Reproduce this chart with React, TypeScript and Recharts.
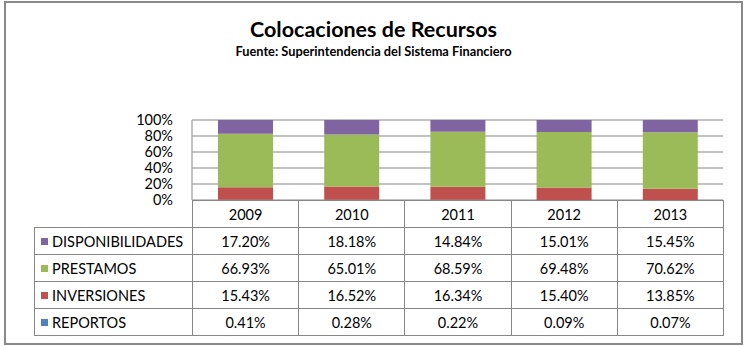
import { BarChart, Bar, XAxis, YAxis, CartesianGrid } from 'recharts';

const years = ['2009', '2010', '2011', '2012', '2013'];
const disponibilidades = [17.2, 18.18, 14.84, 15.01, 15.45];
const prestamos = [66.93, 65.01, 68.59, 69.48, 70.62];
const inversiones = [15.43, 16.52, 16.34, 15.4, 13.85];
const reportos = [0.41, 0.28, 0.22, 0.09, 0.07];
const yTicks = [0, 0.2, 0.4, 0.6, 0.8, 1];

// table order (top to bottom); bars stack in the reverse order
const series = [
  { key: 'DISPONIBILIDADES', values: disponibilidades, color: '#8064A2' },
  { key: 'PRESTAMOS', values: prestamos, color: '#9BBB59' },
  { key: 'INVERSIONES', values: inversiones, color: '#C0504D' },
  { key: 'REPORTOS', values: reportos, color: '#4F81BD' },
];

const FONT = 'Lato, "Noto Sans", sans-serif';
const LINE = '#878787';
const plotLeft = 192;
const plotRight = 723;
const plotTop = 120;
const plotBottom = 200;
const labelLeft = 34;
const rowH = 27;
const colW = (plotRight - plotLeft) / years.length;

const fmt = (v: number) => `${v.toFixed(2)}%`;

export default function App() {
  const rows = years.map((year, i) => {
    const r: Record<string, any> = { year };
    for (const s of series) r[s.key] = s.values[i];
    return r;
  });

  const cell = (x: number, y: number, w: number, h: number, content: any, align: 'center' | 'left' = 'center') => (
    <div
      key={`${x}-${y}`}
      style={{
        position: 'absolute',
        left: x,
        top: y,
        width: w + 1,
        height: h + 1,
        boxSizing: 'border-box',
        border: `1px solid ${LINE}`,
        display: 'flex',
        alignItems: 'center',
        justifyContent: align === 'center' ? 'center' : 'flex-start',
        fontFamily: FONT,
        fontSize: 14.5,
        color: '#000',
        whiteSpace: 'nowrap',
      }}
    >
      {content}
    </div>
  );

  return (
    <div style={{ position: 'absolute', left: 0, top: 0, width: 747, height: 346, background: '#fff' }}>
      <div
        style={{
          position: 'absolute',
          left: 4,
          top: 1,
          width: 739,
          height: 344,
          boxSizing: 'border-box',
          border: '2px solid #898989',
        }}
      />
      <div
        style={{
          position: 'absolute',
          left: 0,
          width: 747,
          top: 19,
          textAlign: 'center',
          fontFamily: FONT,
          fontWeight: 700,
          fontSize: 21.5,
          lineHeight: '21px',
        }}
      >
        Colocaciones de Recursos
      </div>
      <div
        style={{
          position: 'absolute',
          left: 0,
          width: 747,
          top: 45,
          textAlign: 'center',
          fontFamily: FONT,
          fontWeight: 700,
          fontSize: 12.8,
          lineHeight: '12px',
        }}
      >
        Fuente: Superintendencia del Sistema Financiero
      </div>

      <div style={{ position: 'absolute', left: 0, top: 0 }}>
        <BarChart
          width={747}
          height={346}
          data={rows}
          stackOffset="expand"
          margin={{ top: plotTop, right: 747 - plotRight, bottom: 346 - plotBottom, left: plotLeft - 62 }}
        >
          <CartesianGrid vertical={false} stroke={LINE} />
          <XAxis dataKey="year" hide />
          <YAxis
            width={62}
            ticks={yTicks}
            domain={[0, 1]}
            interval={0}
            tickFormatter={(v: number) => `${Math.round(v * 100)}%`}
            tick={{ fill: '#000', fontSize: 14.5, fontFamily: FONT }}
            tickLine={false}
            tickSize={17}
            tickMargin={2}
            axisLine={{ stroke: LINE }}
          />
          {[...series].reverse().map((s) => (
            <Bar
              key={s.key}
              dataKey={s.key}
              stackId="a"
              fill={s.color}
              barSize={55}
              isAnimationActive={false}
            />
          ))}
        </BarChart>
      </div>

      {/* data table */}
      {years.map((y, i) => cell(plotLeft + i * colW, plotBottom, colW, rowH, y))}
      {series.map((s, r) => {
        const top = plotBottom + rowH * (r + 1);
        return [
          cell(
            labelLeft,
            top,
            plotLeft - labelLeft,
            rowH,
            <>
              <span
                style={{
                  display: 'inline-block',
                  width: 7,
                  height: 7,
                  background: s.color,
                  marginLeft: 6,
                  marginRight: 4,
                }}
              />
              {s.key}
            </>,
            'left'
          ),
          ...s.values.map((v, i) => cell(plotLeft + i * colW, top, colW, rowH, fmt(v))),
        ];
      })}
    </div>
  );
}
